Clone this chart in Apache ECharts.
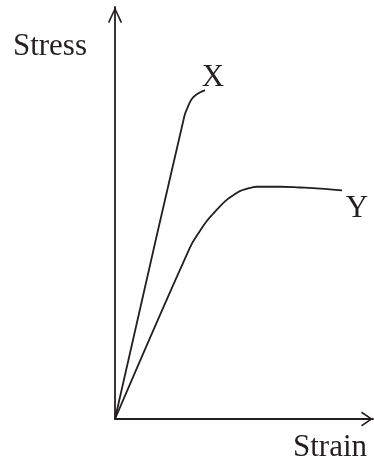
<!DOCTYPE html>
<html>
<head>
<meta charset="utf-8">
<script src="https://cdn.jsdelivr.net/npm/echarts@6/dist/echarts.min.js"></script>
<style>
  html, body { margin: 0; padding: 0; background: #fff; }
  #chart { width: 374px; height: 466px; }
</style>
</head>
<body>
<div id="chart"></div>
<script>
// curve X: stiff, brittle material (strain, stress)
var xStrain = [0, 2.69, 2.84, 2.97, 3.17, 3.49];
var xStress = [0, 11.77, 12.16, 12.42, 12.61, 12.77];
// curve Y: softer, ductile material
var yStrain = [0, 2.90, 3.29, 3.55, 3.81, 4.07, 4.33, 4.59, 4.84, 5.10, 5.30, 5.49, 6.40, 7.17, 7.95, 8.80];
var yStress = [0, 6.65, 7.30, 7.68, 7.98, 8.26, 8.51, 8.69, 8.85, 8.94, 8.99, 9.02, 9.02, 8.99, 8.95, 8.88];

var ink = '#231f20';
var font = '"Liberation Serif", "Times New Roman", serif';

function pairs(xs, ys) {
  return xs.map(function (v, i) { return [v, ys[i]]; });
}

var mychart = echarts.init(document.getElementById('chart'));
mychart.setOption({
  animation: false,
  grid: { left: 115, right: 1, top: 7, bottom: 47, outerBoundsMode: 'none' },
  xAxis: {
    type: 'value', min: 0, max: 10,
    name: 'Strain', nameLocation: 'end', nameGap: -6,
    nameTextStyle: { color: ink, fontFamily: font, fontSize: 31, align: 'right', verticalAlign: 'top', padding: [13, 0, 0, 0] },
    axisLine: {
      lineStyle: { color: ink, width: 1.8 },
      symbol: ['none', 'path://M0,11 L7.5,0 L15,11 L13.6,11.8 L7.5,2.8 L1.4,11.8 Z'],
      symbolSize: [15, 12], symbolOffset: [0, -6]
    },
    axisTick: { show: false }, axisLabel: { show: false }, splitLine: { show: false }
  },
  yAxis: {
    type: 'value', min: 0, max: 16,
    name: 'Stress', nameLocation: 'end', nameGap: -40,
    nameTextStyle: { color: ink, fontFamily: font, fontSize: 31, align: 'right', verticalAlign: 'middle', padding: [0, 28, 0, 0] },
    axisLine: {
      lineStyle: { color: ink, width: 1.8 },
      symbol: ['none', 'path://M0,15 L7,0 L14,15 L12.6,15.8 L7,3.4 L1.4,15.8 Z'],
      symbolSize: [14, 16], symbolOffset: [0, -8]
    },
    axisTick: { show: false }, axisLabel: { show: false }, splitLine: { show: false }
  },
  series: [{
    name: 'X', type: 'line', data: pairs(xStrain, xStress),
    smooth: 0.35, showSymbol: false,
    lineStyle: { color: ink, width: 1.8 },
    endLabel: { show: true, formatter: '{a}', distance: 0, align: 'center', verticalAlign: 'middle', offset: [8, -12], color: ink, fontFamily: font, fontSize: 31 }
  }, {
    name: 'Y', type: 'line', data: pairs(yStrain, yStress),
    smooth: 0.4, showSymbol: false,
    lineStyle: { color: ink, width: 1.8 },
    endLabel: { show: true, formatter: '{a}', distance: 0, align: 'center', verticalAlign: 'middle', offset: [15, 19], color: ink, fontFamily: font, fontSize: 31 }
  }]
});
</script>
</body>
</html>
